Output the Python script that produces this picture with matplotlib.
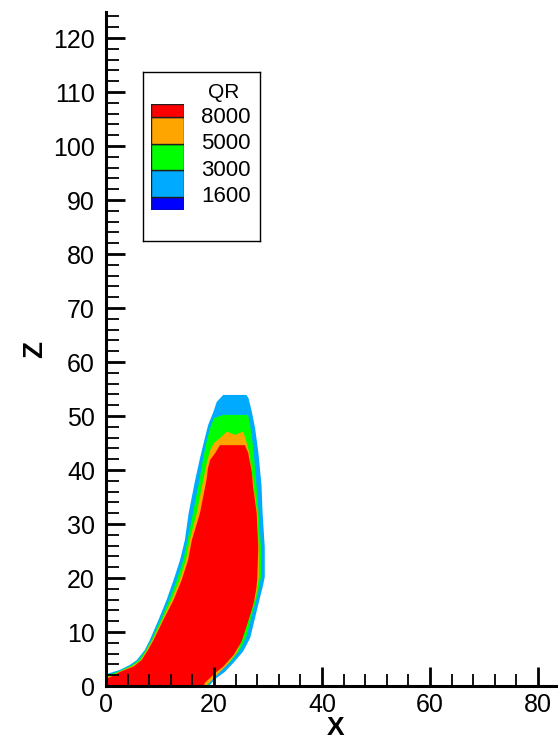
import numpy as np
import matplotlib
matplotlib.use("Agg")
import matplotlib.pyplot as plt
from matplotlib.ticker import MultipleLocator

plt.rcParams['font.family'] = ['Liberation Sans', 'DejaVu Sans']

# contour levels and band colours (legend, bottom to top)
levels = [1600, 3000, 5000, 8000]
band_colors = ['#0000ff', '#00aaff', '#00ff00', '#ffa500', '#ff0000']

# outline of each filled region (x, z)
qr1600_x = [0.0, 0.0, 2.0, 2.6, 4.4, 5.7, 7.2, 8.1, 9.7, 11.2, 12.5, 13.7, 14.6, 15.3, 16.5,
            17.4, 18.3, 18.9, 19.9, 20.5, 21.7, 26.0, 26.4, 27.0, 27.6, 28.2, 28.8, 29.0,
            29.4, 29.4, 29.1, 28.5, 27.6, 26.7, 25.4, 23.6, 22.0, 20.5, 19.6, 19.1]
qr1600_z = [0.0, 2.2, 2.8, 3.0, 3.9, 4.8, 6.7, 8.5, 12.2, 15.9, 19.6, 23.3, 27.0, 32.0, 38.1,
            42.2, 45.9, 48.3, 50.8, 52.6, 53.9, 53.9, 53.3, 50.8, 47.8, 43.4, 37.2, 32.0,
            25.7, 20.2, 18.7, 16.3, 12.6, 8.9, 6.4, 4.3, 2.6, 1.5, 0.6, 0.0]

qr3000_x = [0.0, 0.0, 1.8, 2.6, 4.7, 6.1, 7.4, 8.4, 10.1, 11.7, 13.1, 14.3, 15.1, 16.1, 17.3,
            18.0, 18.7, 19.3, 20.0, 21.7, 26.3, 26.7, 27.2, 27.8, 28.3, 28.7, 28.7, 28.1,
            27.0, 26.1, 24.8, 23.0, 21.3, 20.0, 19.1, 18.8]
qr3000_z = [0.0, 1.9, 2.5, 2.8, 3.8, 4.8, 6.7, 8.5, 12.2, 15.9, 19.6, 23.3, 27.0, 32.0, 38.1,
            42.2, 45.6, 47.8, 49.6, 50.2, 50.2, 48.3, 44.6, 38.1, 32.0, 25.7, 20.2, 16.9,
            13.1, 9.4, 6.7, 4.4, 3.0, 1.7, 0.6, 0.0]

qr5000_x = [0.0, 0.0, 1.6, 2.6, 4.9, 6.4, 7.6, 8.6, 10.4, 12.1, 13.6, 14.8, 15.5, 16.8, 18.0,
            18.7, 19.3, 20.0, 21.1, 22.4, 23.9, 25.4, 25.9, 26.5, 27.2, 28.0, 28.3, 28.3,
            27.8, 26.7, 25.7, 24.3, 22.4, 20.7, 19.6, 18.5]
qr5000_z = [0.0, 1.6, 2.2, 2.7, 3.7, 4.8, 6.7, 8.5, 12.2, 15.9, 19.6, 23.3, 27.0, 32.0, 38.1,
            41.5, 43.7, 45.0, 45.9, 47.1, 46.5, 47.1, 45.6, 43.3, 38.1, 32.0, 25.7, 20.2,
            16.7, 13.5, 10.4, 6.3, 3.9, 2.2, 1.1, 0.0]

qr8000_x = [0.0, 0.0, 1.3, 2.6, 5.1, 6.6, 7.8, 8.8, 10.6, 12.5, 14.0, 15.2, 15.9, 17.4, 18.6,
            18.9, 19.3, 20.2, 21.1, 25.7, 26.3, 27.0, 27.2, 27.9, 28.2, 28.0, 27.8, 27.4,
            27.0, 26.1, 25.1, 23.6, 21.7, 20.2, 19.3, 18.3, 18.1]
qr8000_z = [0.0, 1.3, 1.9, 2.6, 3.6, 4.8, 6.7, 8.5, 12.2, 15.9, 19.6, 23.3, 27.0, 32.0, 38.1,
            40.4, 41.9, 43.1, 44.6, 44.6, 43.3, 39.6, 37.2, 32.0, 25.7, 19.6, 17.8, 15.6,
            14.1, 11.3, 8.2, 5.7, 3.6, 2.4, 1.5, 0.6, 0.0]

W, H = 558, 742
fig = plt.figure(figsize=(W / 100, H / 100), dpi=100, facecolor='white')
ax = fig.add_axes([106 / W, 56 / H, (W - 106) / W, 674 / H])

regions = [(qr1600_x, qr1600_z), (qr3000_x, qr3000_z),
           (qr5000_x, qr5000_z), (qr8000_x, qr8000_z)]
for (xs, zs), col in zip(regions, band_colors[1:]):
    ax.fill(xs, zs, color=col, lw=0)

ax.set_xlim(0, 452 / 5.4)
ax.set_ylim(0, 674 / 5.4)

for s in ['top', 'right']:
    ax.spines[s].set_visible(False)
for s in ['left', 'bottom']:
    ax.spines[s].set_linewidth(2.2)

ax.xaxis.set_major_locator(MultipleLocator(20))
ax.xaxis.set_minor_locator(MultipleLocator(4))
ax.yaxis.set_major_locator(MultipleLocator(10))
ax.yaxis.set_minor_locator(MultipleLocator(2))
ax.tick_params(which='major', direction='in', length=13.5, width=2, labelsize=18)
ax.tick_params(which='minor', direction='in', length=9, width=1.3)
ax.tick_params(axis='x', which='major', pad=5)
ax.tick_params(axis='y', which='major', pad=8)

ax.set_xlabel('X', fontsize=19, fontweight='bold', va='center')
ax.xaxis.set_label_coords(0.507, -42 / 674)
ax.set_ylabel('Z', fontsize=20, fontweight='bold', va='center', ha='center')
ax.yaxis.set_label_coords(-0.156, 0.5)

# legend box
box = fig.add_axes([142.7 / W, 1 - 240.7 / H, (260 - 142.7) / W, (240.7 - 71.7) / H])
box.set_xticks([])
box.set_yticks([])
box.set_facecolor('white')
for s in box.spines.values():
    s.set_linewidth(1.0)

sw = fig.add_axes([151 / W, 1 - 210 / H, 33 / W, 106 / H])
sw.set_xlim(0, 1)
sw.set_ylim(0, 4)
sw.axis('off')
bottoms = [0, 0.5, 1.5, 2.5, 3.5]
heights = [0.5, 1, 1, 1, 0.5]
sw.bar([0.5] * 5, heights, width=1, bottom=bottoms, color=band_colors,
       edgecolor='#202020', linewidth=1.0)
for i, lev in enumerate(levels):
    sw.text(1.52, i + 0.5, str(lev), fontsize=16, ha='left', va='center', clip_on=False)
sw.text(2.21, 4.45, 'QR', fontsize=15, ha='center', va='center', clip_on=False)

fig.savefig('out.png', dpi=100)
